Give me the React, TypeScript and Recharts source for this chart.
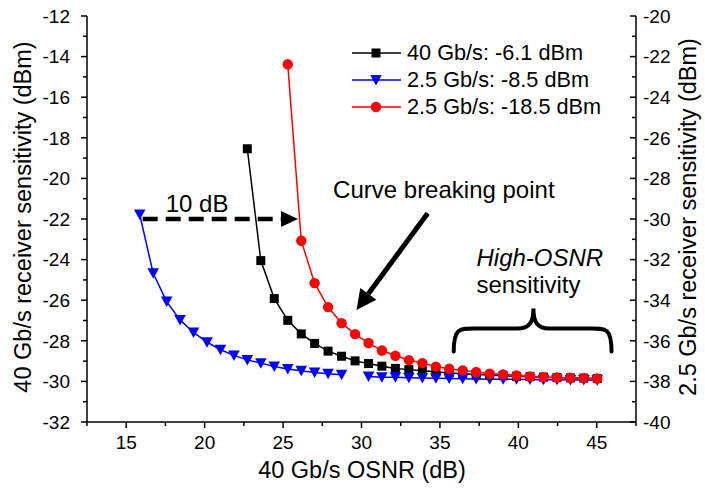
import {
  LineChart,
  Line,
  XAxis,
  YAxis,
  Legend,
  ReferenceLine,
  ReferenceDot,
} from "recharts";

// 40 Gb/s OSNR (dB), shared by all three curves
const osnr = [
  15.86, 16.72, 17.58, 18.43, 19.29, 20.15, 21.01, 21.87, 22.72, 23.58, 24.44,
  25.3, 26.16, 27.01, 27.87, 28.73, 29.59, 30.45, 31.3, 32.16, 33.02, 33.88,
  34.74, 35.59, 36.45, 37.31, 38.17, 39.03, 39.88, 40.74, 41.6, 42.46, 43.32,
  44.17, 45.03,
];

// 40 Gb/s receiver sensitivity (left axis)
const rx40 = [
  null, null, null, null, null, null, null, null, -18.54, -24.05, -25.92,
  -26.99, -27.66, -28.13, -28.51, -28.76, -28.99, -29.12, -29.25, -29.36,
  -29.42, -29.48, -29.53, -29.58, -29.62, -29.66, -29.69, -29.72, -29.75,
  -29.77, -29.79, -29.81, -29.83, -29.84, -29.86,
];

// 2.5 Gb/s at -8.5 dBm (right axis)
const rx25a = [
  -29.78, -32.67, -34.07, -34.97, -35.59, -36.07, -36.44, -36.72, -36.94,
  -37.1, -37.27, -37.39, -37.48, -37.56, -37.62, -37.67, null, -37.76, -37.79,
  -37.8, -37.82, -37.83, -37.85, -37.86, -37.87, -37.88, -37.89, -37.9, -37.9,
  -37.91, -37.92, -37.92, -37.93, -37.93, -37.94,
];

// 2.5 Gb/s at -18.5 dBm (right axis)
const rx25b = [
  null, null, null, null, null, null, null, null, null, null, null, -22.38,
  -31.07, -33.16, -34.34, -35.13, -35.67, -36.11, -36.48, -36.74, -36.95,
  -37.1, -37.27, -37.38, -37.46, -37.54, -37.62, -37.66, -37.71, -37.76,
  -37.79, -37.81, -37.82, -37.84, -37.86,
];

const seriesNames = [
  "40 Gb/s: -6.1 dBm",
  "2.5 Gb/s: -8.5 dBm",
  "2.5 Gb/s: -18.5 dBm",
];
const seriesColors = ["#000000", "#0000ff", "#ff0000"];

const xTicks = [12.5, 15, 17.5, 20, 22.5, 25, 27.5, 30, 32.5, 35, 37.5, 40, 42.5, 45, 47.5];
const leftTicks = [
  -32, -31, -30, -29, -28, -27, -26, -25, -24, -23, -22, -21, -20, -19, -18,
  -17, -16, -15, -14, -13, -12,
];
const rightTicks = [
  -40, -39, -38, -37, -36, -35, -34, -33, -32, -31, -30, -29, -28, -27, -26,
  -25, -24, -23, -22, -21, -20,
];

const data = osnr.map((x, i) => ({
  x,
  rx40: rx40[i],
  rx25a: rx25a[i],
  rx25b: rx25b[i],
}));

const FONT = "Arial, 'Liberation Sans', sans-serif";
const TICK_FS = 19;
const TITLE_FS = 23.5;
const NOTE_FS = 24;

// ---- markers ----
const Square = ({ cx, cy, color }: any) => (
  <rect x={cx - 4.5} y={cy - 4.5} width={9} height={9} fill={color} />
);
const Tri = ({ cx, cy, color }: any) => (
  <polygon
    points={`${cx - 5.8},${cy - 5} ${cx + 5.8},${cy - 5} ${cx},${cy + 5.5}`}
    fill={color}
  />
);
const Circle = ({ cx, cy, color }: any) => <circle cx={cx} cy={cy} r={5.2} fill={color} />;
const markers = [Square, Tri, Circle];

const makeDot = (idx: number) => (p: any) => {
  const M = markers[idx];
  if (p.cx == null || p.cy == null || p.value == null)
    return <g key={`d${idx}-${p.index}`} />;
  return (
    <g key={`d${idx}-${p.index}`}>
      <M cx={p.cx} cy={p.cy} color={seriesColors[idx]} />
    </g>
  );
};

// ---- ticks ----
const LeftTick = (p: any) => {
  const v = p.payload.value;
  const major = v % 2 === 0;
  return (
    <g>
      <line x1={p.x} x2={p.x - (major ? 6 : 4)} y1={p.y} y2={p.y} stroke="#000" strokeWidth={1.5} />
      {major && (
        <text x={p.x - 17} y={p.y} dy="0.36em" textAnchor="end" fontSize={TICK_FS} fontFamily={FONT} fill="#000">
          {v}
        </text>
      )}
    </g>
  );
};

const RightTick = (p: any) => {
  const v = p.payload.value;
  const major = v % 2 === 0;
  return (
    <g>
      <line x1={p.x} x2={p.x - (major ? 6 : 4)} y1={p.y} y2={p.y} stroke="#000" strokeWidth={1.5} />
      {major && (
        <text x={p.x + 7} y={p.y} dy="0.36em" textAnchor="start" fontSize={TICK_FS} fontFamily={FONT} fill="#000">
          {v}
        </text>
      )}
    </g>
  );
};

const BottomTick = (p: any) => {
  const v = p.payload.value;
  const major = v % 5 === 0;
  return (
    <g>
      <line x1={p.x} x2={p.x} y1={p.y} y2={p.y + (major ? 6 : 4)} stroke="#000" strokeWidth={1.5} />
      {major && (
        <text x={p.x} y={p.y + 27} textAnchor="middle" fontSize={TICK_FS} fontFamily={FONT} fill="#000">
          {v}
        </text>
      )}
    </g>
  );
};

const TopTick = (p: any) => (
  <line x1={p.x} x2={p.x} y1={p.y} y2={p.y + 6} stroke="#000" strokeWidth={1.5} />
);

// ---- annotations ----
const arrowShape = (w: number, head: number, half: number, dash?: string) => (p: any) => {
  const { x1, y1, x2, y2 } = p;
  const dx = x2 - x1;
  const dy = y2 - y1;
  const len = Math.hypot(dx, dy) || 1;
  const ux = dx / len;
  const uy = dy / len;
  const bx = x2 - ux * head;
  const by = y2 - uy * head;
  const nx = -uy;
  const ny = ux;
  return (
    <g>
      <line x1={x1} y1={y1} x2={bx} y2={by} stroke="#000" strokeWidth={w} strokeDasharray={dash} />
      <polygon
        points={`${x2},${y2} ${bx + nx * half},${by + ny * half} ${bx - nx * half},${by - ny * half}`}
        fill="#000"
      />
    </g>
  );
};

const braceShape = (p: any) => {
  const { x1, y1, x2 } = p;
  const xm = x1 + (x2 - x1) * 0.505;
  const ys = y1 - 23;
  const yp = y1 - 43;
  const d = [
    `M${x1},${y1}`,
    `C${x1},${ys - 2} ${x1 + 6},${ys} ${x1 + 26},${ys}`,
    `L${xm - 16},${ys}`,
    `C${xm - 4},${ys} ${xm},${ys - 6} ${xm},${yp}`,
    `C${xm},${ys - 6} ${xm + 4},${ys} ${xm + 16},${ys}`,
    `L${x2 - 26},${ys}`,
    `C${x2 - 6},${ys} ${x2},${ys - 2} ${x2},${y1}`,
  ].join(" ");
  return <path d={d} fill="none" stroke="#000" strokeWidth={4} strokeLinecap="round" />;
};

const textShape = (label: string, italic = false) => (p: any) => (
  <text
    x={p.cx}
    y={p.cy}
    fontSize={NOTE_FS}
    fontFamily={FONT}
    fontStyle={italic ? "italic" : "normal"}
    fill="#000"
  >
    {label}
  </text>
);

const LegendBox = () => (
  <div style={{ fontFamily: FONT, fontSize: 21.7, color: "#000" }}>
    {seriesNames.map((name, i) => {
      const M = markers[i];
      return (
        <div key={name} style={{ display: "flex", alignItems: "center", height: 27.3 }}>
          <svg width={49} height={20} style={{ display: "block" }}>
            <line x1={0} x2={49} y1={10} y2={10} stroke={seriesColors[i]} strokeWidth={1.5} />
            <M cx={24} cy={10} color={seriesColors[i]} />
          </svg>
          <span style={{ marginLeft: 6, whiteSpace: "nowrap" }}>{name}</span>
        </div>
      );
    })}
  </div>
);

export default function App() {
  return (
    <div style={{ position: "absolute", left: 0, top: 0, width: 705, height: 496, background: "#fff" }}>
      <LineChart width={705} height={496} data={data} margin={{ top: 16, right: 0, bottom: 0, left: 0 }}>
        <XAxis
          xAxisId="b"
          dataKey="x"
          type="number"
          domain={[12.5, 47.5]}
          ticks={xTicks}
          interval={0}
          height={74}
          tickSize={0}
          tickMargin={0}
          tickLine={false}
          tick={<BottomTick />}
          axisLine={{ stroke: "#000", strokeWidth: 1.5 }}
          allowDataOverflow
          label={() => (
            <text x={362} y={478} textAnchor="middle" fontSize={TITLE_FS} fontFamily={FONT} fill="#000">
              40 Gb/s OSNR (dB)
            </text>
          )}
        />
        <XAxis
          xAxisId="t"
          dataKey="x"
          type="number"
          orientation="top"
          domain={[12.5, 47.5]}
          ticks={xTicks}
          interval={0}
          height={0}
          tickSize={0}
          tickMargin={0}
          tickLine={false}
          tick={<TopTick />}
          axisLine={{ stroke: "#000", strokeWidth: 1.5 }}
          allowDataOverflow
        />
        <YAxis
          yAxisId="l"
          domain={[-32, -12]}
          ticks={leftTicks}
          interval={0}
          width={87}
          tickSize={0}
          tickMargin={0}
          tickLine={false}
          tick={<LeftTick />}
          axisLine={{ stroke: "#000", strokeWidth: 1.5 }}
          allowDataOverflow
          label={() => (
            <text
              x={23}
              y={217}
              transform="rotate(-90 23 217)"
              textAnchor="middle"
              dominantBaseline="central"
              fontSize={TITLE_FS}
              fontFamily={FONT}
              fill="#000"
            >
              40 Gb/s receiver sensitivity (dBm)
            </text>
          )}
        />
        <YAxis
          yAxisId="r"
          orientation="right"
          domain={[-40, -20]}
          ticks={rightTicks}
          interval={0}
          width={69}
          tickSize={0}
          tickMargin={0}
          tickLine={false}
          tick={<RightTick />}
          axisLine={{ stroke: "#000", strokeWidth: 1.5 }}
          allowDataOverflow
          label={() => (
            <text
              x={688}
              y={217}
              transform="rotate(-90 688 217)"
              textAnchor="middle"
              dominantBaseline="central"
              fontSize={TITLE_FS}
              fontFamily={FONT}
              fill="#000"
            >
              2.5 Gb/s receiver sensitivity (dBm)
            </text>
          )}
        />

        <ReferenceLine
          xAxisId="b"
          yAxisId="l"
          segment={[{ x: 16.05, y: -22 }, { x: 25.95, y: -22 }]}
          shape={arrowShape(4.5, 17, 8, "15 8")}
        />
        <ReferenceLine
          xAxisId="b"
          yAxisId="l"
          segment={[{ x: 34.22, y: -21.72 }, { x: 29.68, y: -26.48 }]}
          shape={arrowShape(5, 20, 10)}
        />
        <ReferenceLine
          xAxisId="b"
          yAxisId="l"
          segment={[{ x: 35.88, y: -28.53 }, { x: 45.94, y: -28.53 }]}
          shape={braceShape}
        />
        <ReferenceDot xAxisId="b" yAxisId="l" x={17.52} y={-21.67} r={0} shape={textShape("10 dB")} />
        <ReferenceDot xAxisId="b" yAxisId="l" x={28.19} y={-20.98} r={0} shape={textShape("Curve breaking point")} />
        <ReferenceDot xAxisId="b" yAxisId="l" x={37.33} y={-24.31} r={0} shape={textShape("High-OSNR", true)} />
        <ReferenceDot xAxisId="b" yAxisId="l" x={37.33} y={-25.63} r={0} shape={textShape("sensitivity")} />

        <Line
          xAxisId="b"
          yAxisId="l"
          dataKey="rx40"
          name={seriesNames[0]}
          stroke={seriesColors[0]}
          strokeWidth={1.5}
          dot={makeDot(0)}
          activeDot={false}
          connectNulls={false}
          isAnimationActive={false}
        />
        <Line
          xAxisId="b"
          yAxisId="r"
          dataKey="rx25a"
          name={seriesNames[1]}
          stroke={seriesColors[1]}
          strokeWidth={1.5}
          dot={makeDot(1)}
          activeDot={false}
          connectNulls={false}
          isAnimationActive={false}
        />
        <Line
          xAxisId="b"
          yAxisId="r"
          dataKey="rx25b"
          name={seriesNames[2]}
          stroke={seriesColors[2]}
          strokeWidth={1.5}
          dot={makeDot(2)}
          activeDot={false}
          connectNulls={false}
          isAnimationActive={false}
        />

        <Legend
          layout="horizontal"
          verticalAlign="middle"
          align="center"
          content={<LegendBox />}
          wrapperStyle={{ position: "absolute", left: 352, top: 39, width: 270, height: 82 }}
        />
      </LineChart>
    </div>
  );
}
